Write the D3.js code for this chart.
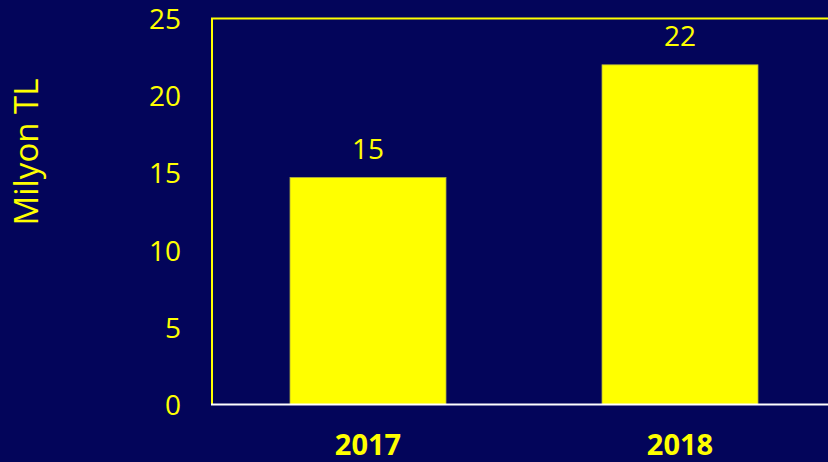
<!DOCTYPE html>
<html>
<head>
   <meta charset="utf-8">
   <script src="https://d3js.org/d3.v7.min.js"></script>
   <style>
      body {
         margin: 0;
         background: #03055a;
      }

      text {
         font-family: "Open Sans", sans-serif;
         fill: #ffff00;
      }

      .yAxis text {
         font-size: 28px;
      }

      .xAxis text {
         font-size: 29px;
         font-weight: 700;
      }

      text.valueLabel {
         font-size: 28px;
      }

      text.yTitle {
         font-size: 33px;
      }

      path.domain {
         display: none;
      }
   </style>
</head>

<body>
   <script>
      const width = 828;
      const height = 462;

      // data
      const years = ['2017', '2018'];
      const values = [14.7, 22.0];
      const valueLabels = ['15', '22'];
      const yTicks = [0, 5, 10, 15, 20, 25];

      const margin = { top: 18.5, right: -8, bottom: 57.5, left: 212 };

      const svg = d3.select('body').append('svg')
         .attr('width', width)
         .attr('height', height);

      svg.append('rect')
         .attr('width', width)
         .attr('height', height)
         .attr('fill', '#03055a');

      const x = d3.scaleBand()
         .domain(years)
         .range([margin.left, width - margin.right])
         .paddingInner(0.5)
         .paddingOuter(0.25);

      const y = d3.scaleLinear()
         .domain([0, 25])
         .range([height - margin.bottom, margin.top]);

      const data = years.map((d, i) => ({ year: d, value: values[i], label: valueLabels[i] }));

      // plot frame (top + left in yellow)
      svg.append('path')
         .attr('d', `M${x.range()[0]},${y(0)} V${y(25)} H${x.range()[1]}`)
         .attr('fill', 'none')
         .attr('stroke', '#ffff00')
         .attr('stroke-width', 2);

      // bars
      svg.selectAll('rect.bar')
         .data(data)
         .enter()
         .append('rect')
         .attr('class', 'bar')
         .attr('x', d => x(d.year))
         .attr('width', x.bandwidth())
         .attr('y', d => y(d.value))
         .attr('height', d => y(0) - y(d.value))
         .attr('fill', '#ffff00')
         .attr('stroke', '#b0b040')
         .attr('stroke-width', 0.8);

      // value labels
      svg.selectAll('text.valueLabel')
         .data(data)
         .enter()
         .append('text')
         .attr('class', 'valueLabel')
         .attr('x', d => x(d.year) + x.bandwidth() / 2)
         .attr('y', d => y(d.value) - 19)
         .attr('text-anchor', 'middle')
         .text(d => d.label);

      // y axis
      svg.append('g')
         .attr('class', 'yAxis')
         .attr('transform', `translate(${margin.left},0)`)
         .call(d3.axisLeft(y).tickValues(yTicks).tickSize(0).tickPadding(31))
         .selectAll('text')
         .attr('fill', '#ffff00')
         .attr('dy', '0.36em');

      // x axis
      svg.append('g')
         .attr('class', 'xAxis')
         .attr('transform', `translate(0,${y(0)})`)
         .call(d3.axisBottom(x).tickSize(0).tickPadding(30))
         .selectAll('text')
         .attr('fill', '#ffff00');

      // baseline
      svg.append('line')
         .attr('x1', x.range()[0] - 1)
         .attr('x2', width)
         .attr('y1', y(0))
         .attr('y2', y(0))
         .attr('stroke', '#ffffff')
         .attr('stroke-width', 2);

      // y title
      svg.append('text')
         .attr('class', 'yTitle')
         .attr('transform', 'translate(38,152) rotate(-90)')
         .attr('text-anchor', 'middle')
         .text('Milyon TL');
   </script>
</body>
</html>
